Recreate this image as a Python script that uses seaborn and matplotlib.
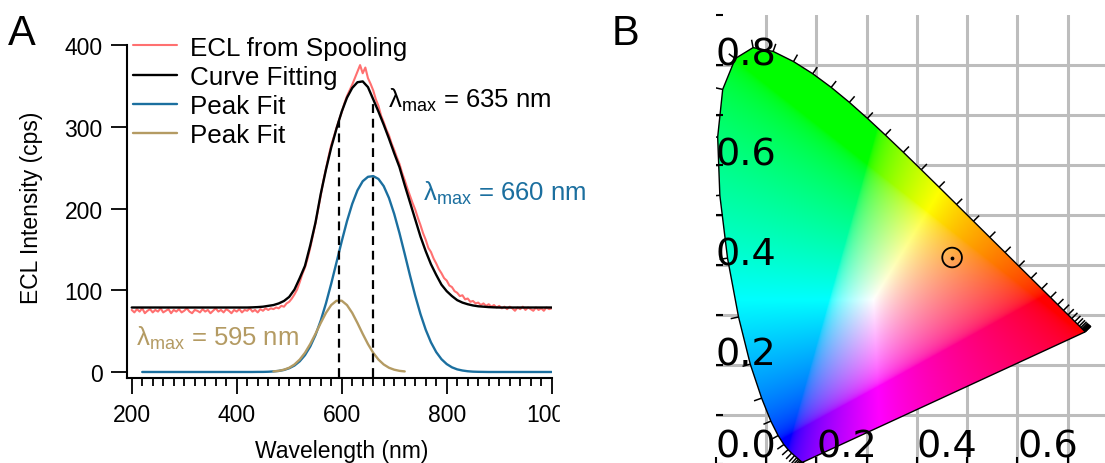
import numpy as np
import seaborn as sns
import matplotlib.pyplot as plt
from matplotlib.patches import Polygon, Rectangle
from matplotlib.collections import LineCollection
from matplotlib.ticker import MultipleLocator

# ---------------- panel A : ECL spectrum ----------------
wl_red = np.arange(200, 1001, 5)
ecl_red = [76, 73, 77, 74, 78, 72, 75, 77, 73, 76,
           74, 78, 73, 75, 77, 72, 76, 74, 77, 73,
           75, 78, 74, 72, 76, 75, 73, 77, 74, 76,
           72, 75, 78, 74, 76, 73, 77, 75, 72, 76,
           74, 77, 73, 76, 75, 78, 74, 76, 73, 77,
           75, 78, 76, 78, 77, 79, 78, 81, 80, 84,
           86, 90, 95, 101, 110, 120, 128, 139, 152, 167,
           182, 199, 216, 234, 249, 264, 278, 288, 299, 309,
           318, 329, 338, 345, 352, 360, 368, 376, 366, 373,
           360, 353, 345, 334, 326, 314, 306, 297, 290, 280,
           272, 263, 255, 244, 235, 225, 216, 207, 199, 189,
           180, 170, 162, 152, 147, 139, 133, 126, 121, 115,
           112, 106, 104, 99, 97, 93, 94, 89, 90, 86,
           87, 84, 85, 82, 84, 81, 83, 80, 82, 79,
           81, 78, 80, 77, 80, 78, 75, 79, 77, 80,
           76, 79, 77, 75, 79, 76, 78, 75, 79, 77,
           78]

wl_fit = np.arange(200, 1001, 10)
fit_total = [79, 79, 79, 79, 79, 79, 79, 79, 79, 79,
             79, 79, 79, 79, 79, 79, 79, 79, 79, 79,
             79, 79, 79, 79.2, 79.5, 80, 81, 82, 84, 87,
             92, 101, 115, 130, 155, 183, 218, 248, 275, 298,
             319, 336, 348, 355, 356, 349, 334, 319, 303, 286,
             268, 251, 229, 208, 187, 166, 148, 132, 119, 107,
             99, 93, 88, 85, 83, 81.5, 80.5, 80, 79.5, 79.2,
             79, 79, 79, 79, 79, 79, 79, 79, 79, 79,
             79]

wl_peak1 = np.arange(220, 1001, 10)
fit_peak1 = [0, 0, 0, 0, 0, 0, 0, 0, 0, 0,
             0, 0, 0, 0, 0, 0, 0, 0, 0, 0,
             0, 0, 0.1, 0.1, 0.3, 0.7, 1.3, 2.5, 4.6, 7.9,
             13.1, 20.6, 31.2, 45.2, 62.9, 84.1, 108.2, 134.1, 160.1, 184.7,
             205.9, 222.6, 233.7, 239.1, 240.0, 236.5, 227.7, 213.2, 193.6, 170.2,
             144.6, 118.4, 93.5, 71.0, 51.8, 36.3, 24.4, 15.7, 9.7, 5.7,
             3.2, 1.8, 0.9, 0.4, 0.2, 0.1, 0, 0, 0, 0,
             0, 0, 0, 0, 0, 0, 0, 0, 0]

wl_peak2 = np.arange(470, 721, 10)
fit_peak2 = [0.7, 1.4, 2.8, 5.2, 9.2, 15.2, 23.5, 34.2, 46.7, 60.0,
             72.4, 82.0, 87.3, 87.3, 82.0, 72.4, 60.0, 46.7, 34.2, 23.5,
             15.2, 9.2, 5.2, 2.8, 1.4, 0.7]

peak_wl = [595, 660]
peak_top = [307, 332]

# ---------------- panel B : CIE 1931 diagram ----------------
locus_wl = np.arange(380, 701, 5)
locus_x = [0.1741, 0.1740, 0.1738, 0.1736, 0.1733, 0.1730, 0.1726, 0.1721, 0.1714, 0.1703,
           0.1689, 0.1669, 0.1644, 0.1611, 0.1566, 0.1510, 0.1440, 0.1355, 0.1241, 0.1096,
           0.0913, 0.0687, 0.0454, 0.0235, 0.0082, 0.0039, 0.0139, 0.0389, 0.0743, 0.1142,
           0.1547, 0.1929, 0.2296, 0.2658, 0.3016, 0.3373, 0.3731, 0.4087, 0.4441, 0.4788,
           0.5125, 0.5448, 0.5752, 0.6029, 0.6270, 0.6482, 0.6658, 0.6801, 0.6915, 0.7006,
           0.7079, 0.7140, 0.7190, 0.7230, 0.7260, 0.7283, 0.7300, 0.7311, 0.7320, 0.7327,
           0.7334, 0.7340, 0.7344, 0.7346, 0.7347]
locus_y = [0.0050, 0.0050, 0.0049, 0.0049, 0.0048, 0.0048, 0.0048, 0.0048, 0.0051, 0.0058,
           0.0069, 0.0086, 0.0109, 0.0138, 0.0177, 0.0227, 0.0297, 0.0399, 0.0578, 0.0868,
           0.1327, 0.2007, 0.2950, 0.4127, 0.5384, 0.6548, 0.7502, 0.8120, 0.8338, 0.8262,
           0.8059, 0.7816, 0.7543, 0.7243, 0.6923, 0.6589, 0.6245, 0.5896, 0.5547, 0.5202,
           0.4866, 0.4544, 0.4242, 0.3965, 0.3725, 0.3514, 0.3340, 0.3197, 0.3083, 0.2993,
           0.2920, 0.2859, 0.2809, 0.2770, 0.2740, 0.2717, 0.2700, 0.2689, 0.2680, 0.2673,
           0.2666, 0.2660, 0.2656, 0.2654, 0.2653]
sample_x = [0.470]
sample_y = [0.414]

sns.set_style('ticks')
plt.rcParams['font.family'] = ['Liberation Sans', 'DejaVu Sans']
plt.rcParams['mathtext.fontset'] = 'custom'
plt.rcParams['mathtext.rm'] = 'Liberation Sans'
for k in ['text.color', 'axes.labelcolor', 'xtick.color', 'ytick.color', 'axes.edgecolor']:
    plt.rcParams[k] = 'black'

fig = plt.figure(figsize=(11.05, 4.64), dpi=100)

# ---- A ----
ax = fig.add_axes([0.11493, 0.18384, 0.38435, 0.71595])
sns.lineplot(x=wl_red, y=ecl_red, ax=ax, color='#ff7070', lw=1.5, label='ECL from Spooling')
sns.lineplot(x=wl_fit, y=fit_total, ax=ax, color='black', lw=1.7, label='Curve Fitting')
sns.lineplot(x=wl_peak1, y=fit_peak1, ax=ax, color='#1b6f9f', lw=1.7, label='Peak Fit')
sns.lineplot(x=wl_peak2, y=fit_peak2, ax=ax, color='#b49b63', lw=1.7, label='Peak Fit')
ax.vlines(peak_wl, -6, peak_top, colors='black', linestyles=(0, (4, 2.6)), lw=1.6, zorder=3)

ax.set_xlim(191, 1000)
ax.set_ylim(-7, 400)
ax.set_xticks([200, 400, 600, 800, 1000])
ax.xaxis.set_minor_locator(MultipleLocator(20))
ax.set_yticks([0, 100, 200, 300, 400])
ax.tick_params(axis='x', which='major', direction='out', length=11.5, width=1.3, labelsize=16.5, pad=7, bottom=True)
ax.tick_params(axis='x', which='minor', direction='out', length=5.5, width=1.3, bottom=True)
ax.tick_params(axis='y', which='major', direction='out', length=11.5, width=1.3, labelsize=16.5, pad=6, left=True)
for s in ['top', 'right']:
    ax.spines[s].set_visible(False)
for s in ['left', 'bottom']:
    ax.spines[s].set_linewidth(1.5)
    ax.spines[s].set_color('black')
ax.set_xlabel('Wavelength (nm)', fontsize=16.5)
ax.set_ylabel('ECL Intensity (cps)', fontsize=16.5)
ax.xaxis.set_label_coords(0.506, -0.185)
ax.yaxis.set_label_coords(-0.198, 0.514)

ax.legend(loc='upper left', bbox_to_anchor=(0.014, 1.03), frameon=False, fontsize=18.7,
          handlelength=1.7, handletextpad=0.5, labelspacing=0.2, borderpad=0, borderaxespad=0)

ax.text(688, 334, r'λ$_{\rm max}$ = 635 nm', color='black', fontsize=18.5, va='center')
ax.text(755, 220, r'λ$_{\rm max}$ = 660 nm', color='#1b6f9f', fontsize=18.5, va='center')
ax.text(208, 43, r'λ$_{\rm max}$ = 595 nm', color='#b49b63', fontsize=18.5, va='center')

fig.text(8 / 1105, 1 - 45 / 464, 'A', fontsize=30, va='baseline')
fig.text(612 / 1105, 1 - 45 / 464, 'B', fontsize=30, va='baseline')

# hide the part of the "1000" label that is cut off in the original
fig.add_artist(Rectangle((560 / 1105, 0.05), 0.12, 0.12, transform=fig.transFigure,
                         color='white', zorder=5))

# ---- B ----
axb = fig.add_axes([0.6477, -0.00323, 0.3523, 0.9698])
axb.set_xlim(0, 0.774)
axb.set_ylim(0, 0.9)
axb.set_axisbelow(False)

for v in np.arange(0.1, 0.75, 0.1):
    axb.axvline(v, color='#bdbdbd', lw=2.2, zorder=0)
for v in np.arange(0.1, 0.85, 0.1):
    axb.axhline(v, color='#bdbdbd', lw=2.2, zorder=0)

gx = np.linspace(0, 0.8, 480)
gy = np.linspace(0.0, 0.9, 540)
X, Y = np.meshgrid(gx, gy)
Yc = np.maximum(Y, 1e-3)
XYZ = np.stack([X / Yc, np.ones_like(X), (1 - X - Y) / Yc], axis=-1)
M = np.array([[3.2406, -1.5372, -0.4986],
              [-0.9689, 1.8758, 0.0415],
              [0.0557, -0.2040, 1.0570]])
rgb = np.clip(XYZ @ M.T, 0, None)
rgb = rgb / np.maximum(rgb.max(axis=-1, keepdims=True), 1e-9)
rgb = np.where(rgb <= 0.0031308, 12.92 * rgb, 1.055 * np.power(rgb, 1 / 2.4) - 0.055)
rgb = np.clip(rgb, 0, 1)
im = axb.imshow(rgb, extent=(0, 0.8, 0, 0.9), origin='lower', interpolation='bilinear',
                aspect='auto', zorder=1)

pts = np.column_stack([locus_x, locus_y])
poly = Polygon(pts, closed=True, facecolor='none', edgecolor='black', lw=1.0, zorder=2)
axb.add_patch(poly)
im.set_clip_path(poly)

segs = []
for i in range(1, len(pts) - 1):
    t = pts[i + 1] - pts[i - 1]
    n = np.array([-t[1], t[0]])
    n = n / np.hypot(n[0], n[1])
    segs.append([pts[i], pts[i] + 0.016 * n])
axb.add_collection(LineCollection(segs, colors='black', lw=1.1, zorder=2))

axb.scatter(sample_x, sample_y, s=200, facecolors='none', edgecolors='black', lw=1.3, zorder=4)
axb.scatter(sample_x, sample_y, s=3, color='black', zorder=4)

for s in axb.spines.values():
    s.set_visible(False)
axb.set_xticks([0.0, 0.2, 0.4, 0.6])
axb.set_yticks([0.2, 0.4, 0.6, 0.8])
axb.set_xticks(np.arange(0, 0.8, 0.1), minor=True)
axb.set_yticks(np.arange(0, 0.95, 0.1), minor=True)
axb.set_xticklabels(['0.0', '0.2', '0.4', '0.6'])
axb.set_yticklabels(['0.2', '0.4', '0.6', '0.8'])
axb.tick_params(which='both', direction='in', length=5, width=1.5, color='black',
                labelsize=27.5, pad=0, labelfontfamily='DejaVu Sans', bottom=True, left=True)
plt.setp(axb.get_xticklabels(), ha='left', va='bottom')
plt.setp(axb.get_yticklabels(), ha='left', va='baseline')

fig.savefig('out.png', dpi=100)
